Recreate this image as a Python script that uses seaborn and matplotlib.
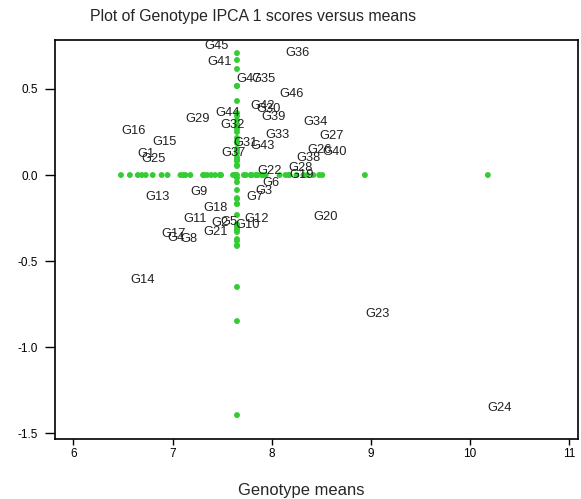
import numpy as np
import pandas as pd
import matplotlib
matplotlib.use("Agg")
import matplotlib.pyplot as plt
import seaborn as sns

# ─── Veri: genotip ortalamaları ve IPCA 1 skorları ─────────────────────────
genotypes = [f"G{i}" for i in range(1, 48)]

means = [6.65, 7.39, 7.84, 6.95, 7.48, 7.91, 7.74, 7.08, 7.18, 7.63,
         7.11, 7.72, 6.73, 6.57, 6.80, 6.48, 6.89, 7.31, 8.18, 8.42,
         7.31, 7.86, 8.94, 10.18, 6.69, 8.36, 8.48, 8.17, 7.13, 7.85,
         7.61, 7.48, 7.94, 8.32, 7.80, 8.14, 7.49, 8.25, 7.90, 8.51,
         7.35, 7.79, 7.79, 7.43, 7.32, 8.08, 7.64]

ipca1 = [0.081, -0.319, -0.134, -0.407, -0.314, -0.087, -0.168, -0.412, -0.139, -0.331,
         -0.296, -0.296, -0.168, -0.650, 0.151, 0.215, -0.383, -0.232, -0.041, -0.285,
         -0.372, -0.017, -0.848, -1.394, 0.052, 0.105, 0.186, 0.000, 0.285, 0.343,
         0.145, 0.250, 0.192, 0.267, 0.517, 0.668, 0.087, 0.058, 0.296, 0.093,
         0.616, 0.360, 0.128, 0.319, 0.708, 0.430, 0.517]

grand_mean = 7.65

df = pd.DataFrame({"Genotip": genotypes, "Ortalama": means, "IPCA1": ipca1})

# eksenlere izdüşümler
x_proj = pd.DataFrame({"x": df["Ortalama"], "y": 0.0})
y_proj = pd.DataFrame({"x": grand_mean, "y": df["IPCA1"]})

# ─── Grafik ────────────────────────────────────────────────────────────────
sns.set_style("white")
plt.rcParams["font.family"] = ["Liberation Sans", "DejaVu Sans"]

fig = plt.figure(figsize=(5.81, 4.99), dpi=100)
ax = fig.add_axes([0.0947, 0.1202, 0.9003, 0.7996])

green = "#33cc33"
sns.scatterplot(data=x_proj, x="x", y="y", ax=ax, color=green, s=18,
                edgecolor="none", marker="o")
sns.scatterplot(data=y_proj, x="x", y="y", ax=ax, color=green, s=18,
                edgecolor="none", marker="o")

for g, m, s in zip(df["Genotip"], df["Ortalama"], df["IPCA1"]):
    ax.text(m, s + 0.006, g, fontsize=9.3, ha="left", va="bottom", color="#222222")

ax.set_xlim(5.815, 11.09)
ax.set_ylim(-1.533, 0.784)
ax.set_xticks([6, 7, 8, 9, 10, 11])
ax.set_yticks([0.5, 0.0, -0.5, -1.0, -1.5])
ax.set_yticklabels(["0.5", "0.0", "-0.5", "-1.0", "-1.5"])
ax.tick_params(axis="both", labelsize=8.5, direction="out", width=1,
               colors="black", bottom=True, left=True, top=False, right=False)
ax.tick_params(axis="y", length=7, pad=5)
ax.tick_params(axis="x", length=4.5, pad=2)
ax.set_xlabel("")
ax.set_ylabel("")
for sp in ax.spines.values():
    sp.set_color("black")
    sp.set_linewidth(1.2)

fig.text(253 / 581, 1 - 17 / 499, "Plot of Genotype IPCA 1 scores versus means",
         ha="center", va="center", fontsize=11.4)
fig.text(301 / 581, 1 - 491 / 499, "Genotype means",
         ha="center", va="center", fontsize=11.9)

plt.savefig("out.png", dpi=100)
plt.close()
